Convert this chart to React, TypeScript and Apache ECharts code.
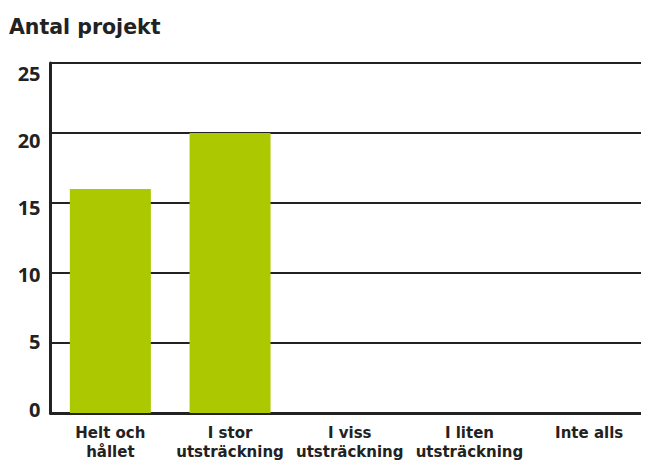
import React, { useEffect, useRef } from "react";
import * as echarts from "echarts";

const categories = [
  "Helt och\nhållet",
  "I stor\nutsträckning",
  "I viss\nutsträckning",
  "I liten\nutsträckning",
  "Inte alls",
];
const values = [16, 20, 0, 0, 0];
const yTicks = [0, 5, 10, 15, 20, 25];
const titleText = "Antal projekt";

export default function App() {
  const ref = useRef<HTMLDivElement>(null);
  useEffect(() => {
    const chart = echarts.init(ref.current!, null, { renderer: "svg" });
    const font = "'DejaVu Sans', sans-serif";
    const numFont = "'Open Sans', sans-serif";
    // tick labels in the reference drift slightly from their grid lines
    const rich: Record<string, any> = {};
    yTicks.forEach((v) => {
      const shift = -4 + (v / 5) * 2.8; // positive = downward
      rich["t" + v] = {
        fontFamily: numFont,
        fontWeight: "bold",
        fontSize: 20,
        color: "#222",
        padding: shift >= 0 ? [shift * 2, 0, 0, 0] : [0, 0, -shift * 2, 0],
      };
    });
    chart.setOption({
      animation: false,
      backgroundColor: "#ffffff",
      title: {
        text: titleText,
        left: 1,
        top: 8,
        padding: 0,
        textStyle: { fontFamily: font, fontWeight: "bold", fontSize: 20.5, color: "#222" },
      },
      grid: { left: 42.5, right: 0, top: 55, bottom: 50, containLabel: false },
      xAxis: {
        type: "category",
        data: categories,
        axisLine: { lineStyle: { color: "#222", width: 3 } },
        axisTick: { show: false },
        axisLabel: {
          interval: 0,
          margin: 10,
          fontFamily: font,
          fontWeight: "bold",
          fontSize: 15,
          lineHeight: 19,
          color: "#222",
          verticalAlign: "top",
        },
        splitLine: { show: false },
      },
      yAxis: {
        type: "value",
        min: 0,
        max: 25,
        interval: 5,
        axisLine: { show: true, lineStyle: { color: "#222", width: 3 } },
        axisTick: { show: false },
        axisLabel: {
          margin: 10,
          formatter: (v: number) => `{t${v}|${v}}`,
          rich,
        },
        splitLine: { show: true, lineStyle: { color: "#222", width: 2 } },
      },
      series: [
        {
          type: "bar",
          data: values,
          barWidth: 81,
          itemStyle: { color: "#abc800" },
          z: 3,
        },
      ],
    });
    return () => chart.dispose();
  }, []);
  return <div ref={ref} style={{ width: 641, height: 455 }} />;
}
